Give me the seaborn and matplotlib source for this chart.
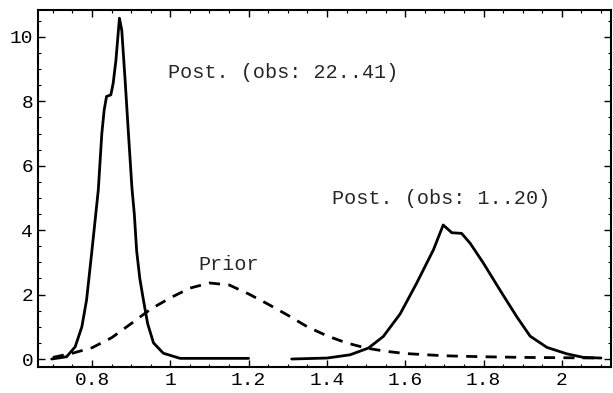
import matplotlib
matplotlib.use("Agg")
import matplotlib.pyplot as plt
from matplotlib.ticker import MultipleLocator
import pandas as pd
import seaborn as sns

# posterior from observations 22..41 (solid, tall narrow peak)
post2_x = [0.697, 0.735, 0.757, 0.774, 0.786, 0.799, 0.808, 0.816, 0.825, 0.831, 0.837, 0.848,
           0.854, 0.861, 0.870, 0.876, 0.885, 0.893, 0.902, 0.908, 0.914, 0.922, 0.931, 0.942,
           0.957, 0.982, 1.025, 1.10, 1.20]
post2_y = [0.0, 0.07, 0.38, 1.0, 1.83, 3.28, 4.32, 5.25, 7.0, 7.73, 8.15, 8.2,
           8.56, 9.27, 10.58, 10.2, 8.56, 7.0, 5.3, 4.5, 3.35, 2.5, 1.85, 1.1,
           0.5, 0.18, 0.02, 0.02, 0.02]

# posterior from observations 1..20 (solid, right hump)
post1_x = [1.31, 1.40, 1.459, 1.506, 1.544, 1.587, 1.629, 1.672, 1.697, 1.719, 1.744, 1.766,
           1.80, 1.842, 1.885, 1.919, 1.962, 2.013, 2.055, 2.10]
post1_y = [0.0, 0.03, 0.13, 0.34, 0.70, 1.40, 2.35, 3.39, 4.16, 3.92, 3.90, 3.59,
           2.97, 2.14, 1.31, 0.71, 0.36, 0.16, 0.05, 0.03]

# prior (dashed)
prior_x = [0.70, 0.75, 0.80, 0.85, 0.90, 0.95, 1.00, 1.05, 1.10, 1.15, 1.20, 1.25, 1.30,
           1.35, 1.40, 1.45, 1.50, 1.55, 1.60, 1.70, 1.80, 1.90, 2.00, 2.10]
prior_y = [0.05, 0.18, 0.35, 0.66, 1.10, 1.55, 1.90, 2.20, 2.36, 2.30, 2.02, 1.70, 1.36,
           1.00, 0.72, 0.50, 0.34, 0.24, 0.17, 0.10, 0.07, 0.05, 0.04, 0.03]

labels = ["Post. (obs: 22..41)", "Post. (obs: 1..20)", "Prior"]

sns.set_style("ticks")
plt.rcParams['font.family'] = ['Liberation Mono', 'DejaVu Sans']

fig = plt.figure(figsize=(6.13, 3.93), dpi=100)
ax = fig.add_axes([0.062, 0.066, 0.935, 0.909])

p2 = pd.DataFrame({"x": post2_x, "y": post2_y})
p1 = pd.DataFrame({"x": post1_x, "y": post1_y})
pr = pd.DataFrame({"x": prior_x, "y": prior_y})

sns.lineplot(data=p2, x="x", y="y", ax=ax, color="black", linewidth=2.0, sort=False, estimator=None)
sns.lineplot(data=p1, x="x", y="y", ax=ax, color="black", linewidth=2.0, sort=False, estimator=None)
sns.lineplot(data=pr, x="x", y="y", ax=ax, color="black", linewidth=2.0, sort=False, estimator=None,
             dashes=False, linestyle=(0, (4, 3)))

ax.text(0.994, 8.9, labels[0], fontsize=14.5, ha="left", va="center")
ax.text(1.413, 4.97, labels[1], fontsize=14.5, ha="left", va="center")
ax.text(1.071, 2.92, labels[2], fontsize=14.5, ha="left", va="center")

ax.set_xlim(0.662, 2.126)
ax.set_ylim(-0.25, 10.84)
ax.set_xlabel("")
ax.set_ylabel("")
ax.xaxis.set_major_locator(MultipleLocator(0.2))
ax.xaxis.set_minor_locator(MultipleLocator(0.05))
ax.yaxis.set_major_locator(MultipleLocator(2))
ax.yaxis.set_minor_locator(MultipleLocator(0.5))
ax.xaxis.set_major_formatter(plt.FuncFormatter(lambda v, p: f"{v:g}"))
ax.yaxis.set_major_formatter(plt.FuncFormatter(lambda v, p: f"{v:g}"))
ax.tick_params(which="both", direction="in", top=True, right=True, colors="black", labelsize=14)
ax.tick_params(which="major", length=5, width=1)
ax.tick_params(which="minor", length=2.5, width=0.8)
for s in ax.spines.values():
    s.set_linewidth(1.5)
    s.set_color("black")

fig.savefig("out.png", dpi=100)
